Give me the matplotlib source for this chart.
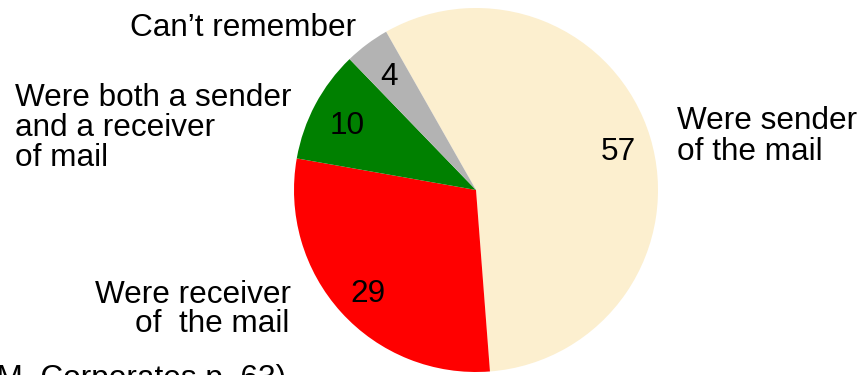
import matplotlib
matplotlib.use("Agg")
import matplotlib.pyplot as plt

# Share of respondents by role in the mail exchange
categories = ["Were sender of the mail", "Were receiver of the mail",
              "Were both a sender and a receiver of mail", "Can\u2019t remember"]
values = [57, 29, 10, 4]
colors = ["#FCEFCF", "#FF0000", "#008000", "#B3B3B3"]

W, H = 863, 375
FS = 22.7
plt.rcParams["font.family"] = ["Liberation Sans", "DejaVu Sans"]

fig = plt.figure(figsize=(W / 100, H / 100), dpi=100)
ax = fig.add_axes([0, 0, 1, 1])

cx, cy, r = 476, H - 190, 182
wedges, _, autotexts = ax.pie(
    values, colors=colors, startangle=119.6, counterclock=False,
    center=(cx, cy), radius=r, autopct=lambda p: f"{round(p)}",
    pctdistance=0.81, wedgeprops=dict(linewidth=0),
    textprops=dict(fontsize=FS, color="black"))

# nudge the value labels slightly downward inside their wedges
for t in autotexts:
    x, y = t.get_position()
    t.set_position((x + 1, y - 5))

ax.set_xlim(0, W)
ax.set_ylim(0, H)
ax.set_aspect("equal")
ax.axis("off")


def line(x, y, s, ha="left"):
    ax.text(x, H - y, s, fontsize=FS, ha=ha, va="baseline", color="black")


# Outer category labels
line(130, 36, "Can\u2019t remember")
line(15, 106, "Were both a sender")
line(15, 136, "and a receiver")
line(15, 166, "of mail")
line(677, 129, "Were sender")
line(677, 160, "of the mail")
line(95, 303, "Were receiver")
line(135, 332, "of  the mail")

# Source note along the bottom edge
line(-14, 387, "(M, Corporates p. 63)")

fig.savefig("out.png", dpi=100)
